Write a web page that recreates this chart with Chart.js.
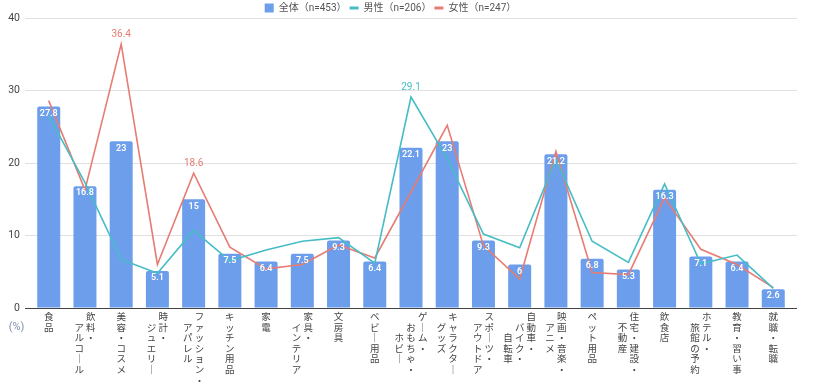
<!DOCTYPE html>
<html>
<head>
<meta charset="utf-8">
<script src="https://cdn.jsdelivr.net/npm/chart.js@4.4.0/dist/chart.umd.min.js"></script>
<style>
  html, body { margin: 0; padding: 0; background: #ffffff; }
  #wrap { width: 834px; height: 385px; position: relative; }
</style>
</head>
<body>
<div id="wrap"><canvas id="c" width="834" height="385"></canvas></div>
<script>
// ---- data ----
const categoryColumns = [
  ['食品'],
  ['飲料・', 'アルコール'],
  ['美容・コスメ'],
  ['時計・', 'ジュエリー'],
  ['ファッション・', 'アパレル'],
  ['キッチン用品'],
  ['家電'],
  ['家具・', 'インテリア'],
  ['文房具'],
  ['ベビー用品'],
  ['ゲーム・', 'おもちゃ・', 'ホビー'],
  ['キャラクター', 'グッズ'],
  ['スポーツ・', 'アウトドア'],
  ['自動車・', 'バイク・', '自転車'],
  ['映画・音楽・', 'アニメ'],
  ['ペット用品'],
  ['住宅・建設・', '不動産'],
  ['飲食店'],
  ['ホテル・', '旅館の予約'],
  ['教育・習い事'],
  ['就職・転職']
];
const totalValues  = [27.8, 16.8, 23, 5.1, 15, 7.5, 6.4, 7.5, 9.3, 6.4, 22.1, 23, 9.3, 6, 21.2, 6.8, 5.3, 16.3, 7.1, 6.4, 2.6];
const maleValues   = [26.5, 17.3, 6.7, 4.8, 10.7, 6.5, 8.0, 9.2, 9.7, 6.2, 29.1, 20.6, 10.2, 8.3, 20.5, 9.2, 6.3, 17.1, 6.1, 7.3, 2.7];
const femaleValues = [28.6, 16.3, 36.4, 6.0, 18.6, 8.4, 5.4, 6.0, 8.7, 6.9, 16.0, 25.2, 8.6, 4.0, 21.6, 4.9, 4.6, 15.2, 8.1, 6.0, 2.8];
const maleLabeled   = [10];
const femaleLabeled = [2, 4];
const seriesNames = ['全体（n=453）', '男性（n=206）', '女性（n=247）'];
const yTicks = [0, 10, 20, 30, 40];
const unitLabel = '(%)';

// ---- styles ----
const barColor = '#6d9eeb';
const maleColor = '#46bdc6';
const femaleColor = '#e67c73';

// vertical (tategaki-like) labels: columns right-to-left, each next column starts one row lower
function verticalLines(cols) {
  const c = cols.map(s => Array.from(s.replace(/ー/g, '｜')));
  const rows = Math.max(...c.map((a, k) => a.length + k));
  const lines = [];
  for (let r = 0; r < rows; r++) {
    const parts = [];
    for (let k = c.length - 1; k >= 0; k--) {
      const ch = c[k][r - k];
      parts.push(ch ? ch : '\u3000');
    }
    lines.push(parts.join(' '));
  }
  return lines;
}
const labels = categoryColumns.map(verticalLines);

const valueLabels = {
  id: 'valueLabels',
  afterLayout(chart) {
    const lg = chart.legend;
    if (lg) { lg.left -= 12; lg.right -= 12; }
  },
  afterDatasetsDraw(chart) {
    const ctx = chart.ctx;
    ctx.save();
    ctx.textAlign = 'center';
    ctx.textBaseline = 'middle';
    ctx.font = '600 9px Roboto, sans-serif';
    ctx.fillStyle = '#ffffff';
    chart.getDatasetMeta(0).data.forEach((el, i) => {
      ctx.fillText(String(totalValues[i]), el.x, el.y + 7);
    });
    ctx.font = '10px Roboto, sans-serif';
    [[1, maleLabeled, maleValues, maleColor], [2, femaleLabeled, femaleValues, femaleColor]].forEach(([di, idxs, vals, col]) => {
      const meta = chart.getDatasetMeta(di);
      ctx.fillStyle = col;
      idxs.forEach(i => {
        const el = meta.data[i];
        ctx.fillText(String(vals[i]), el.x, el.y - 10);
      });
    });
    ctx.restore();
  },
  afterDraw(chart) {
    const ctx = chart.ctx;
    const a = chart.chartArea;
    ctx.save();
    ctx.textAlign = 'center';
    ctx.textBaseline = 'middle';
    ctx.font = '11px Roboto, sans-serif';
    ctx.fillStyle = '#7f8fab';
    ctx.fillText(unitLabel, a.left - 8.5, a.bottom + 19);
    ctx.restore();
  }
};

new Chart(document.getElementById('c'), {
  type: 'bar',
  data: {
    labels: labels,
    datasets: [
      { type: 'bar', label: seriesNames[0], data: totalValues, backgroundColor: barColor,
        borderRadius: 2, barPercentage: 0.635, categoryPercentage: 1, order: 3 },
      { type: 'line', label: seriesNames[1], data: maleValues, borderColor: maleColor, backgroundColor: maleColor,
        borderWidth: 1.6, pointRadius: 0, tension: 0, order: 1 },
      { type: 'line', label: seriesNames[2], data: femaleValues, borderColor: femaleColor, backgroundColor: femaleColor,
        borderWidth: 1.6, pointRadius: 0, tension: 0, order: 2 }
    ]
  },
  options: {
    responsive: false,
    animation: false,
    devicePixelRatio: 1,
    layout: { padding: { left: 8, right: 37, top: 0, bottom: 0 } },
    plugins: {
      tooltip: { enabled: false },
      legend: {
        display: true,
        position: 'top',
        maxHeight: 18,
        labels: {
          usePointStyle: true,
          pointStyleWidth: 9,
          boxHeight: 9,
          padding: 3,
          color: '#555555',
          font: { family: "Roboto, 'Noto Sans CJK JP', sans-serif", size: 10 },
          generateLabels(chart) {
            return chart.data.datasets.map((ds, i) => ({
              text: ds.label,
              fillStyle: ds.type === 'bar' ? ds.backgroundColor : ds.borderColor,
              strokeStyle: ds.type === 'bar' ? ds.backgroundColor : ds.borderColor,
              lineWidth: ds.type === 'bar' ? 0 : 3,
              pointStyle: ds.type === 'bar' ? 'rect' : 'line',
              fontColor: '#555555',
              hidden: false,
              datasetIndex: i
            }));
          }
        }
      }
    },
    scales: {
      x: {
        offset: true,
        afterBuildTicks(scale) {
          const n = scale.getLabels().length;
          scale._startValue = -0.655;
          scale._valueRange = (n - 1) + 2 * 0.655;
        },
        afterFit(scale) { scale.height = 77; },
        grid: { display: false, drawTicks: false },
        border: { display: false },
        ticks: {
          autoSkip: false,
          maxRotation: 0,
          minRotation: 0,
          padding: 3,
          color: '#444444',
          font: { family: "'Noto Sans CJK JP', sans-serif", size: 9.5, lineHeight: 1.12 }
        }
      },
      y: {
        min: 0,
        max: 40,
        afterBuildTicks(scale) { scale.ticks = yTicks.map(v => ({ value: v })); },
        afterFit(scale) { scale.width = 17; },
        grid: {
          drawTicks: false,
          color: ctx => (ctx.tick && ctx.tick.value === 0) ? '#444444' : '#e0e0e0',
          lineWidth: 1
        },
        border: { display: false },
        ticks: {
          padding: 5,
          color: '#444444',
          font: { family: "Roboto, sans-serif", size: 10.5 }
        }
      }
    }
  },
  plugins: [valueLabels]
});
</script>
</body>
</html>
